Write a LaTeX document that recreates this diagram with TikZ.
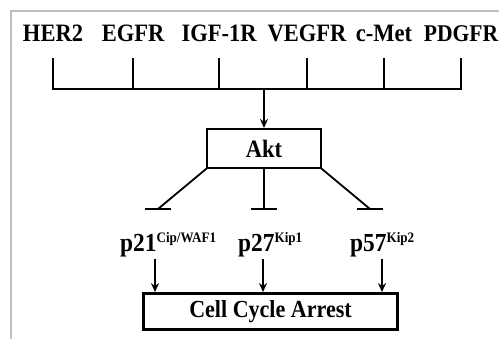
\documentclass[tikz,border=0pt]{standalone}
\usepackage{fontspec}
\setmainfont{Liberation Serif}[FakeStretch=0.9]
\usetikzlibrary{arrows.meta}
\tikzset{
	node_rec/.style = {
		font=\fontsize{25}{29}\selectfont\bfseries,
		inner sep=0pt,
		anchor=base
	},
	node_p/.style = {
		font=\fontsize{26}{30}\selectfont\bfseries,
		inner sep=0pt,
		anchor=base west
	},
	node_box/.style = {
		draw=black,
		font=\fontsize{25}{29}\selectfont\bfseries,
		inner sep=0pt,
		line width=2.2pt
	},
	link/.style = {
		line width=1.8pt,
		line cap=rect
	},
	link_act/.style = {
		line width=1.8pt,
		-{Stealth[length=9pt,width=8pt]}
	},
}
\newcommand{\kipsup}[1]{\raisebox{9pt}{\fontsize{14.5}{15}\selectfont #1}}

\begin{document}
\begin{tikzpicture}[x=1pt,y=-1pt]
\useasboundingbox (0,0) rectangle (499,339);
\draw[gray!50, line width=1.5pt] (11,339) -- (11,11) -- (499,11);
% receptors
\node [node_rec] (her2) at (53,42) {HER2};
\node [node_rec] (egfr) at (133,42) {EGFR};
\node [node_rec] (igf) at (219,42) {IGF-1R};
\node [node_rec] (vegfr) at (307,42) {VEGFR};
\node [node_rec] (cmet) at (384,42) {c-Met};
\node [node_rec, font=\fontsize{24}{28}\selectfont\bfseries] (pdgfr) at (461,42) {PDGFR};
\coordinate (hub) at (264,89);
\foreach \n in {her2,egfr,igf,vegfr,cmet,pdgfr}
	\draw [link] ([yshift=-17pt]\n.base) -- (\n.base |- hub);
\draw [link] (her2.base |- hub) -- (pdgfr.base |- hub);
% Akt
\node [node_box, minimum width=114pt, minimum height=39pt] (akt) at (264,148.5) {Akt};
\draw [link_act] (hub) -- (akt.north);
\coordinate (t21) at (158,209);
\coordinate (t27) at (264,209);
\coordinate (t57) at (370,209);
\draw [link] (akt.south west) -- (t21);
\draw [link] (akt.south) -- (t27);
\draw [link] (akt.south east) -- (t57);
\foreach \t in {t21,t27,t57}
	\draw [link] ([xshift=-12pt]\t) -- ([xshift=12pt]\t);
% CDK inhibitors
\node [node_p] (p21) at (120,252) {p21\kipsup{Cip/WAF1}};
\node [node_p] (p27) at (238,252) {p27\kipsup{Kip1}};
\node [node_p] (p57) at (350,252) {p57\kipsup{Kip2}};
\node [node_box, line width=2.8pt, font=\fontsize{24.5}{28}\selectfont\bfseries, minimum width=254pt, minimum height=36pt] (cca) at (270.5,311.5) {Cell Cycle Arrest};
\coordinate (a21) at (155,259);
\coordinate (a27) at (263,259);
\coordinate (a57) at (382,259);
\foreach \a in {a21,a27,a57}
	\draw [link_act] (\a) -- (\a |- cca.north);
\end{tikzpicture}
\end{document}
